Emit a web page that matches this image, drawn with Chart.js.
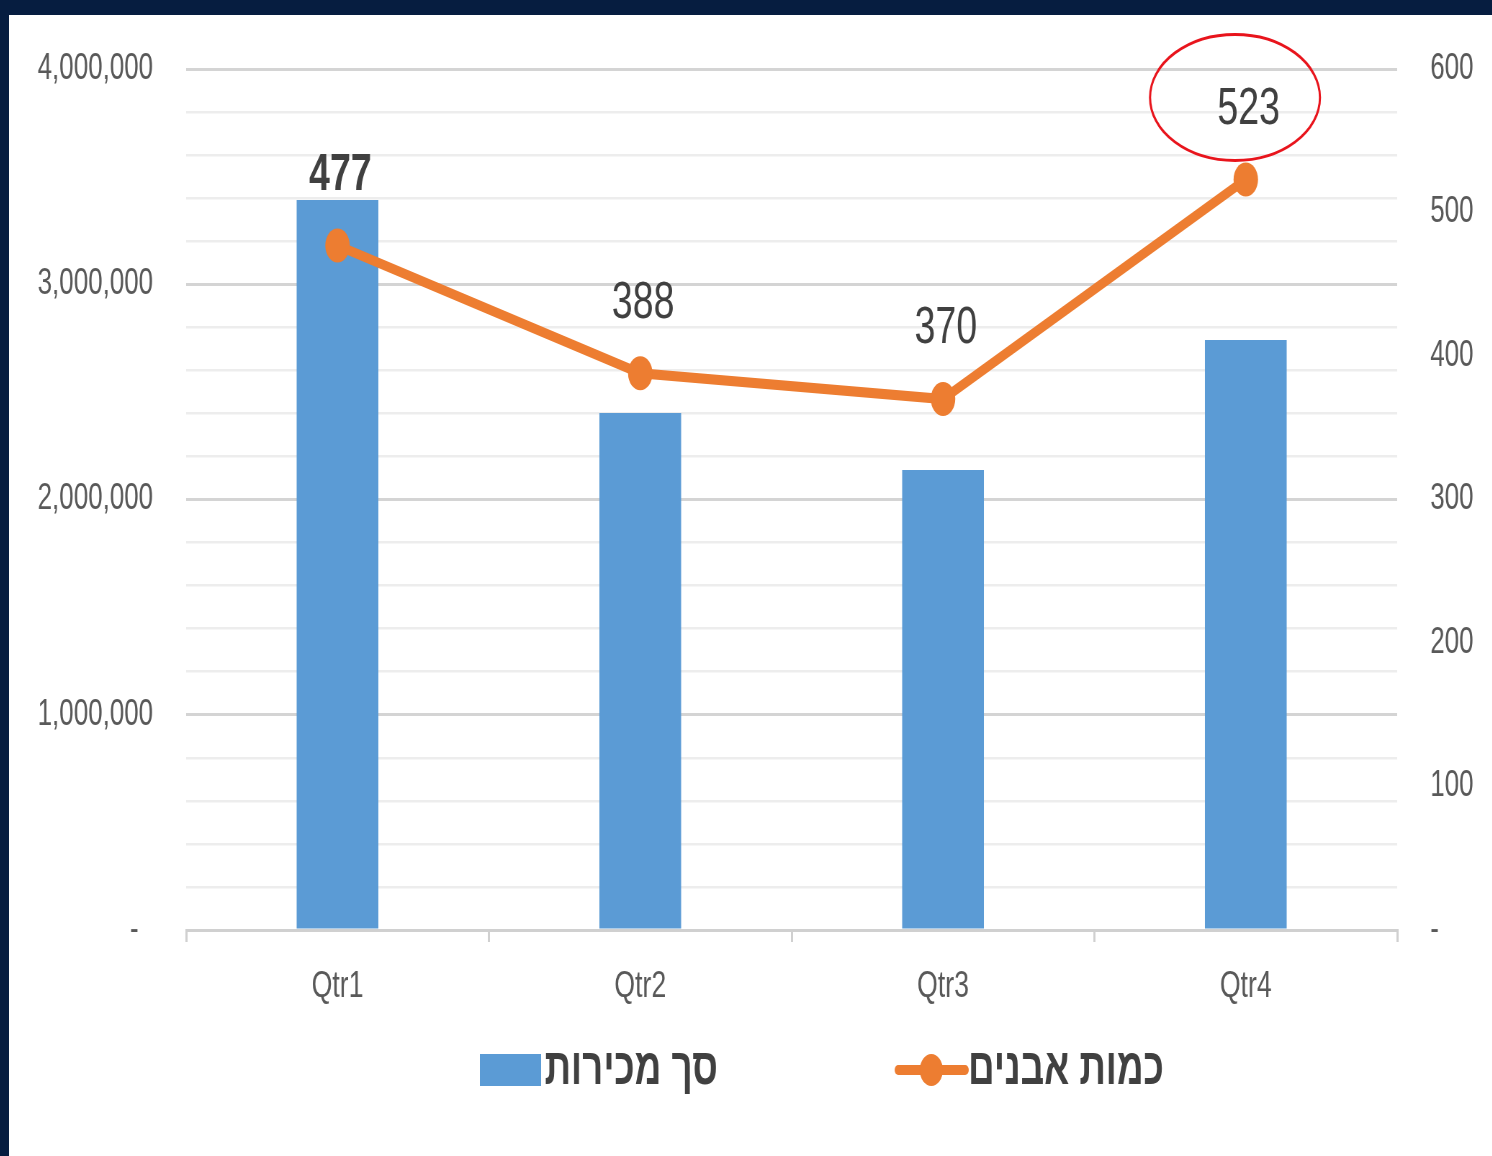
<!DOCTYPE html>
<html>
<head>
<meta charset="utf-8">
<script src="https://cdn.jsdelivr.net/npm/chart.js@4.4.1/dist/chart.umd.min.js"></script>
<style>
  html, body { margin: 0; padding: 0; }
  body { background: #061d40; width: 1492px; height: 1156px; overflow: hidden; }
  .panel { position: absolute; left: 9px; top: 15px; width: 1483px; height: 1141px; background: #fff; overflow: hidden; }
  /* the source picture is squeezed sideways, so draw wide and squeeze */
  .squeeze { width: 2060px; height: 1141px; transform: scaleX(0.72); transform-origin: 0 0; }
  canvas { display: block; }
</style>
</head>
<body>
<div class="panel">
  <div class="squeeze">
    <canvas id="qtrChart" width="2060" height="1141"></canvas>
  </div>
</div>
<script>
const FONT = '"Liberation Sans", Arial, sans-serif';

// data
const quarters = ["Qtr1", "Qtr2", "Qtr3", "Qtr4"];
const salesTotal = [3391000, 2402000, 2137000, 2741000];
const stoneCount = [477, 388, 370, 523];
const salesLabel = "סך מכירות";
const stonesLabel = "כמות אבנים";

const BLUE = "#5b9bd5";
const ORANGE = "#ed7d31";
const TEXT = "#404040";
const AXIS_TEXT = "#595959";

const fmt = (v) => v.toLocaleString("en-US");

// value labels above the line points + red ring around the last one
const pointLabels = {
  id: "pointLabels",
  afterDatasetsDraw(chart) {
    const ctx = chart.ctx;
    const meta = chart.getDatasetMeta(1);
    ctx.save();
    ctx.fillStyle = TEXT;
    ctx.textAlign = "center";
    ctx.textBaseline = "middle";
    meta.data.forEach((pt, i) => {
      ctx.font = (i === 0 ? "bold " : "") + "52px " + FONT;
      ctx.fillText(String(stoneCount[i]), pt.x + 4, pt.y - 70);
    });
    // highlight ring on the last quarter
    const last = meta.data[meta.data.length - 1];
    ctx.beginPath();
    ctx.ellipse(last.x - 15, last.y - 82, 118, 63, 0, 0, Math.PI * 2);
    ctx.strokeStyle = "#e8141c";
    ctx.lineWidth = 3;
    ctx.stroke();
    ctx.restore();
  }
};

// legend drawn by hand: box for bars, line+dot for the line series
const bottomLegend = {
  id: "bottomLegend",
  afterDraw(chart) {
    const ctx = chart.ctx;
    const a = chart.chartArea;
    const y = a.bottom + 140;
    ctx.save();
    ctx.font = "bold 51px " + FONT;
    ctx.textBaseline = "middle";
    ctx.textAlign = "left";

    let x = a.left + 408;
    ctx.fillStyle = BLUE;
    ctx.fillRect(x, y - 16, 85, 32);
    ctx.fillStyle = TEXT;
    ctx.fillText(salesLabel, x + 90, y);

    x = a.left + 989;
    ctx.strokeStyle = ORANGE;
    ctx.lineWidth = 10;
    ctx.lineCap = "round";
    ctx.beginPath();
    ctx.moveTo(x, y);
    ctx.lineTo(x + 93, y);
    ctx.stroke();
    ctx.fillStyle = ORANGE;
    ctx.beginPath();
    ctx.ellipse(x + 46, y, 16, 16, 0, 0, Math.PI * 2);
    ctx.fill();
    ctx.fillStyle = TEXT;
    ctx.fillText(stonesLabel, x + 97, y);
    ctx.restore();
  }
};

// fixed side widths; drop the tick padding that Chart.js adds above/below
const sideFit = (w) => (s) => {
  s.width = w;
  s.paddingTop = 0;
  s.paddingBottom = 0;
};

new Chart(document.getElementById("qtrChart"), {
  data: {
    labels: quarters,
    datasets: [
      {
        type: "bar",
        label: salesLabel,
        data: salesTotal,
        backgroundColor: BLUE,
        yAxisID: "y",
        categoryPercentage: 1,
        barPercentage: 0.27,
        order: 2
      },
      {
        type: "line",
        label: stonesLabel,
        data: stoneCount,
        borderColor: ORANGE,
        backgroundColor: ORANGE,
        borderWidth: 10,
        pointRadius: 17,
        pointHoverRadius: 17,
        pointBorderWidth: 0,
        tension: 0,
        yAxisID: "y1",
        order: 1
      }
    ]
  },
  options: {
    responsive: false,
    animation: false,
    events: [],
    layout: { padding: { top: 54, left: 0, right: 0, bottom: 126 } },
    plugins: {
      legend: { display: false },
      tooltip: { enabled: false }
    },
    scales: {
      x: {
        offset: true,
        grid: {
          offset: true,
          drawOnChartArea: false,
          color: "#d0d0d0",
          lineWidth: 3,
          tickLength: 12
        },
        border: { color: "#d0d0d0", width: 3 },
        ticks: {
          color: AXIS_TEXT,
          font: { family: FONT, size: 37 },
          padding: 23
        },
        afterFit(s) { s.height = 100; }
      },
      y: {
        position: "left",
        min: 0,
        max: 4000000,
        ticks: {
          stepSize: 200000,
          color: AXIS_TEXT,
          font: { family: FONT, size: 36 },
          padding: 46,
          autoSkip: false,
          callback: (v) => {
            if (v === 0) return "-  ";
            return v % 1000000 === 0 ? fmt(v) : "";
          }
        },
        grid: {
          drawTicks: false,
          color: (c) => (c.tick && c.tick.value % 1000000 === 0 ? "#d4d4d4" : "#ededed"),
          lineWidth: (c) => (c.tick && c.tick.value % 1000000 === 0 ? 3 : 2.5)
        },
        border: { display: false },
        afterFit: sideFit(246)
      },
      y1: {
        position: "right",
        min: 0,
        max: 600,
        ticks: {
          stepSize: 100,
          color: AXIS_TEXT,
          font: { family: FONT, size: 36 },
          padding: 46,
          callback: (v) => (v === 0 ? "-" : String(v))
        },
        grid: { drawOnChartArea: false, drawTicks: false },
        border: { display: false },
        afterFit: sideFit(132)
      }
    }
  },
  plugins: [pointLabels, bottomLegend]
});
</script>
</body>
</html>
